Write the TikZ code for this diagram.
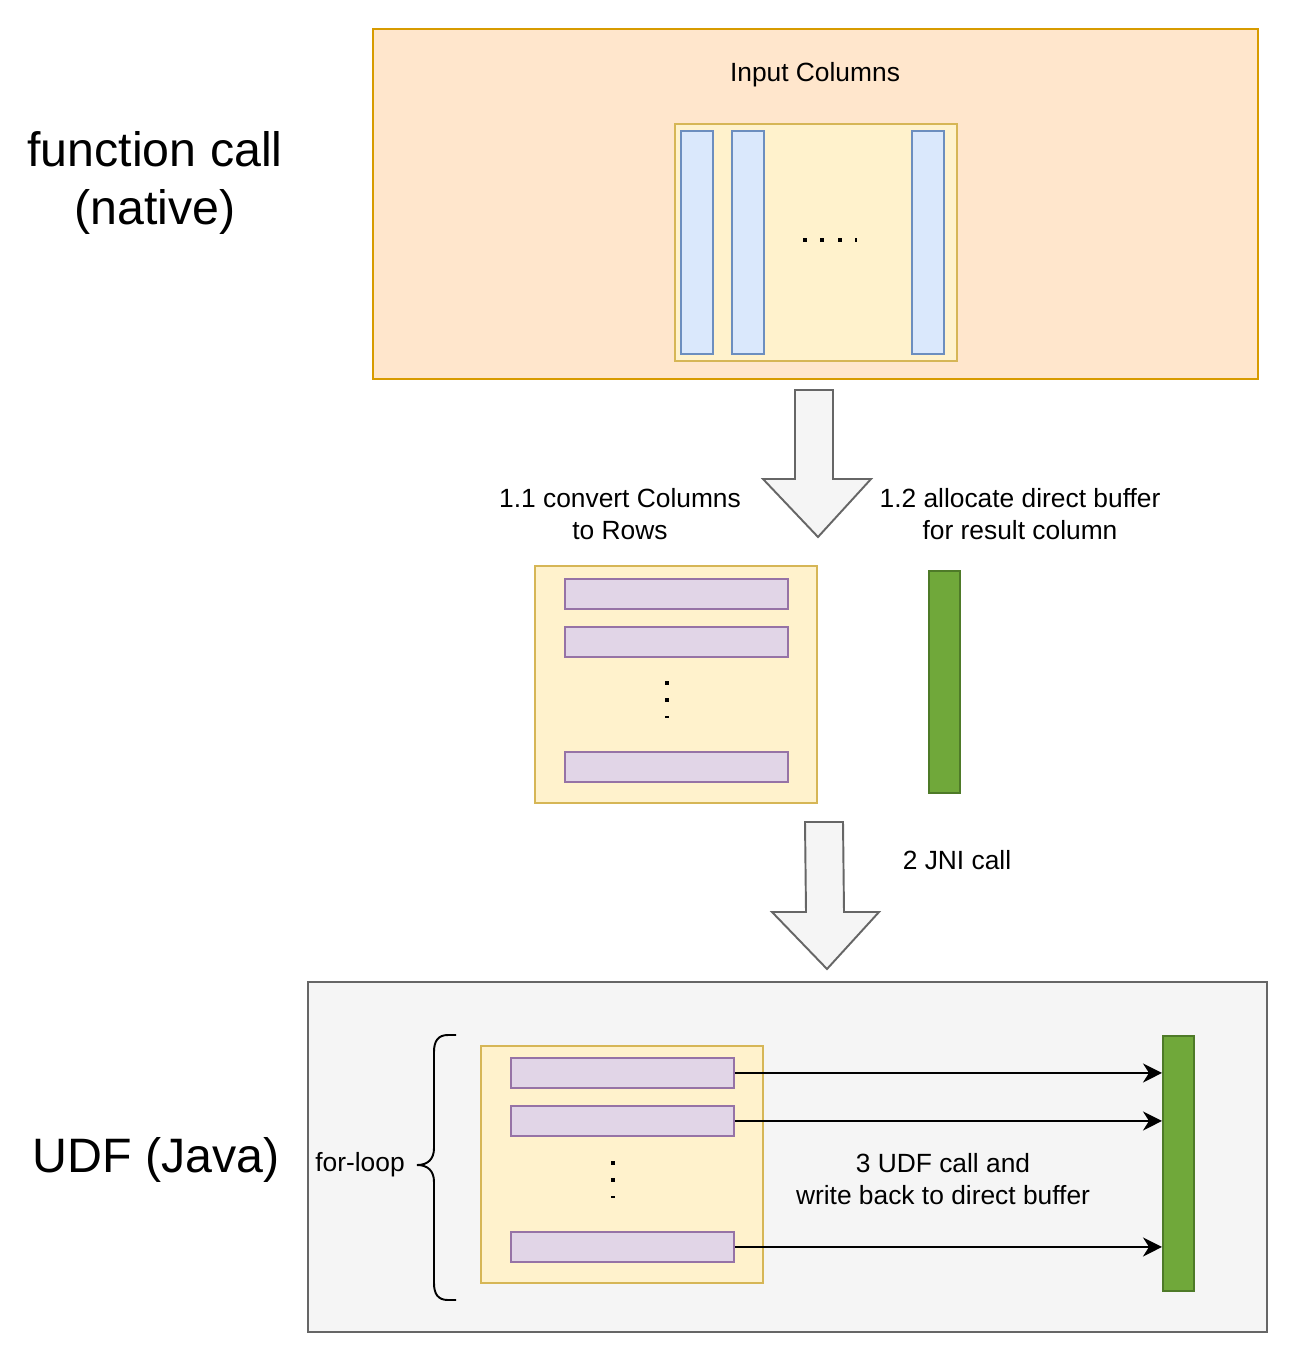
\documentclass[tikz,border=0pt]{standalone}
\usepackage{fontspec}
\setmainfont{Liberation Sans}
\usetikzlibrary{arrows.meta, positioning}
\definecolor{OrangeFond}{HTML}{FFE6CC}
\definecolor{OrangeTrait}{HTML}{D79B00}
\definecolor{JauneFond}{HTML}{FFF2CC}
\definecolor{JauneTrait}{HTML}{D6B656}
\definecolor{BleuFond}{HTML}{DAE8FC}
\definecolor{BleuTrait}{HTML}{6C8EBF}
\definecolor{VioletFond}{HTML}{E1D5E7}
\definecolor{VioletTrait}{HTML}{9673A6}
\definecolor{VertFond}{RGB}{112,168,58}
\definecolor{VertTrait}{RGB}{78,122,40}
\definecolor{GrisFond}{HTML}{F5F5F5}
\definecolor{GrisTrait}{HTML}{666666}
\tikzset{boite/.style={rectangle, line width=1.1pt, anchor=north west, inner sep=0pt}}
\tikzset{cadre/.style={boite, draw=OrangeTrait, fill=OrangeFond}}
\tikzset{paquet/.style={boite, draw=JauneTrait, fill=JauneFond,
  minimum width=5.64cm, minimum height=4.74cm}}
\tikzset{colonne/.style={boite, draw=BleuTrait, fill=BleuFond,
  minimum width=0.64cm, minimum height=4.46cm}}
\tikzset{ligne/.style={boite, draw=VioletTrait, fill=VioletFond,
  minimum width=4.46cm, minimum height=0.6cm}}
\tikzset{tampon/.style={boite, draw=VertTrait, fill=VertFond, minimum width=0.62cm}}
\tikzset{etiq/.style={font=\fontsize{15}{18}\selectfont, align=center}}
\tikzset{titre/.style={font=\fontsize{27.5}{32.5}\selectfont, align=center}}
\tikzset{bloc/.style={draw=GrisTrait, fill=GrisFond, line width=1.1pt}}
\tikzset{fl/.style={-{Stealth[length=3.8mm, width=3.8mm, inset=1.2mm]}, line width=1.1pt}}

\begin{document}
\begin{tikzpicture}[x=0.02cm, y=-0.02cm]
\useasboundingbox (0,0) rectangle (1296,1352);
% partie native
\node[titre] (tnatif) at (155,183) {function call\\(native)};
\node[cadre, minimum width=17.7cm, minimum height=7cm] (natif) at (372,28) {};
\node[etiq] (entree) at (815,75) {Input Columns};
\node[paquet] (colonnes) at (674,123) {};
\foreach \x/\n in {680/c1, 731/c2, 911/c3}
  \node[colonne] (\n) at (\x,130) {};
\foreach \x in {805,822,840}
  \fill (\x-2,238) rectangle ++(4,4);
\fill (855,238) rectangle ++(2,4);
% conversion
\draw[bloc] (795,390) -- (833,390) -- (833,479) -- (871,479) -- (818,537)
  -- (763,479) -- (795,479) -- cycle;
\node[etiq] (conv) at (620,514) {1.1 convert Columns\\to Rows};
\node[etiq] (alloc) at (1020,514) {1.2 allocate direct buffer\\for result column};
\node[paquet] (lignes) at (534,565) {};
\foreach \y/\n in {578/l1, 626/l2, 751/l3}
  \node[ligne] (\n) at (564,\y) {};
\foreach \y in {683,700}
  \fill (665,\y-2) rectangle ++(4,4);
\fill (665,716) rectangle ++(4,2);
\node[tampon, minimum height=4.44cm] (res) at (928,570) {};
% appel JNI
\draw[bloc] (805,822) -- (843,822) -- (844,912) -- (879,912) -- (827,969)
  -- (772,912) -- (806,912) -- cycle;
\node[etiq] (jni) at (957,860) {2 JNI call};
% partie Java
\node[titre] (tudf) at (156,1160) {UDF (Java)};
\node[boite, draw=GrisTrait, fill=GrisFond, minimum width=19.18cm, minimum height=7cm] (java) at (307,981) {};
\node[paquet] (lignesj) at (480,1045) {};
\foreach \y/\n in {1057/j1, 1105/j2, 1231/j3}
  \node[ligne] (\n) at (510,\y) {};
\foreach \y in {1163,1180}
  \fill (611,\y-2) rectangle ++(4,4);
\fill (611,1196) rectangle ++(4,2);
\node[tampon, minimum height=5.1cm] (resj) at (1162,1035) {};
\foreach \n in {j1,j2,j3}
  \draw[fl] (\n.east) -- (\n.east -| resj.west);
\node[etiq] (udfcall) at (943,1179) {3 UDF call and\\write back to direct buffer};
\node[etiq] (boucle) at (360,1165) {for-loop};
\coordinate (pointe) at (417,1165);
\draw[line width=1.1pt] (456,1035) -- (448,1035) .. controls (438,1035) and (434,1041) .. (434,1052)
  -- (434,1148) .. controls (434,1159) and (428,1165) .. (pointe)
  .. controls (428,1165) and (434,1171) .. (434,1182)
  -- (434,1283) .. controls (434,1294) and (438,1300) .. (448,1300) -- (456,1300);
\end{tikzpicture}
\end{document}
